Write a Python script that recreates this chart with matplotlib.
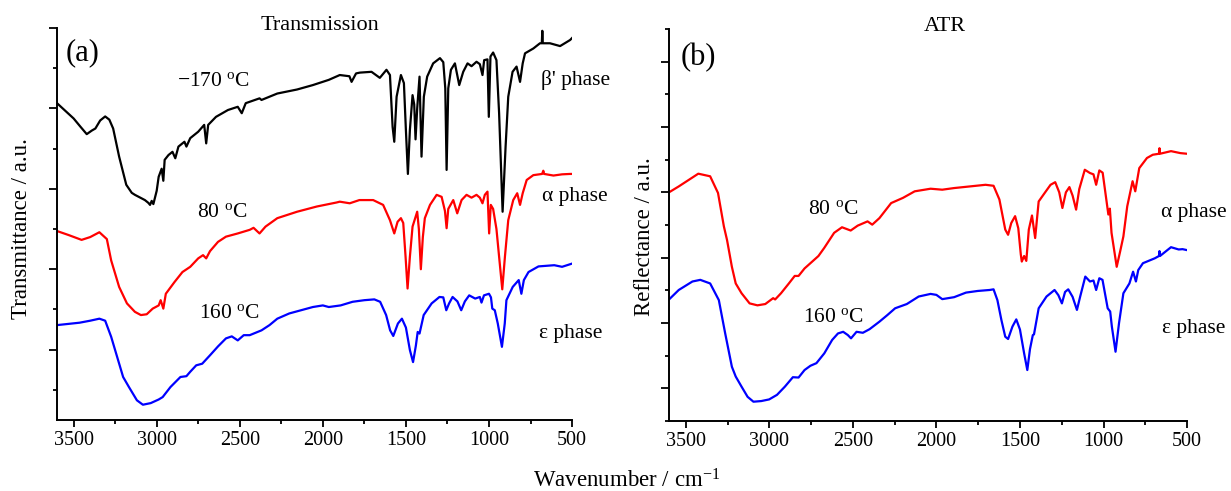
import matplotlib
matplotlib.use("Agg")
import matplotlib.pyplot as plt
from matplotlib.ticker import MultipleLocator

plt.rcParams['font.family'] = ['Liberation Serif', 'DejaVu Serif']
plt.rcParams['mathtext.fontset'] = 'custom'
plt.rcParams['mathtext.rm'] = 'Liberation Serif'
plt.rcParams['mathtext.it'] = 'Liberation Serif:italic'
plt.rcParams['lines.solid_joinstyle'] = 'round'

# ---- (a) Transmission, y in a.u. (one minor tick = 1) ----
wn_beta = [3600, 3500, 3460, 3421, 3390, 3369, 3340, 3310, 3285, 3262, 3226, 3183, 3150, 3131, 3071,
           3050, 3040, 3030, 3020, 3000, 2988, 2970, 2960, 2952, 2929, 2905, 2888, 2869, 2833, 2821,
           2798, 2750, 2714, 2702, 2690, 2643, 2571, 2512, 2488, 2464, 2381, 2369, 2274, 2155, 2060,
           1964, 1898, 1840, 1827, 1800, 1777, 1707, 1657, 1617, 1596, 1580, 1570, 1556, 1530, 1512,
           1500, 1488, 1476, 1460, 1450, 1442, 1432, 1418, 1406, 1392, 1372, 1336, 1295, 1275, 1263,
           1255, 1245, 1229, 1205, 1179, 1155, 1129, 1105, 1075, 1055, 1039, 1029, 1009, 1001, 991,
           975, 955, 939, 918, 900, 884, 858, 834, 813, 797, 783, 733, 693, 682, 679, 676, 633, 572,
           512, 500]
tr_beta = [8.13, 7.75, 7.55, 7.36, 7.45, 7.5, 7.7, 7.8, 7.72, 7.5, 6.8, 6.1, 5.9, 5.85, 5.72,
           5.65, 5.6, 5.7, 5.62, 5.95, 6.3, 6.5, 6.2, 6.72, 6.84, 6.92, 6.76, 7.05, 7.17, 7.05,
           7.26, 7.42, 7.59, 7.13, 7.59, 7.79, 7.96, 8.04, 7.88, 8.13, 8.25, 8.21, 8.37, 8.47, 8.58,
           8.71, 8.83, 8.8, 8.66, 8.87, 8.89, 8.91, 8.76, 8.96, 8.83, 7.54, 7.17, 8.29, 8.83, 8.63,
           7.46, 6.37, 7.46, 8.33, 8.1, 7.23, 8.0, 8.79, 6.8, 8.29, 8.79, 9.12, 9.25, 9.15, 8.5,
           6.47, 8.5, 8.96, 9.12, 8.58, 8.91, 9.12, 9.05, 9.16, 9.1, 8.83, 9.2, 9.22, 7.79, 9.29,
           9.39, 9.2, 7.88, 5.43, 7.05, 8.29, 8.91, 9.04, 8.66, 9.12, 9.37, 9.49, 9.62, 9.62, 9.93,
           9.62, 9.62, 9.55, 9.7, 9.75]

wn_alpha = [3600, 3530, 3452, 3400, 3345, 3300, 3274, 3226, 3179, 3131, 3095, 3060, 3024, 2988, 2976,
            2960, 2945, 2893, 2845, 2798, 2750, 2721, 2702, 2679, 2631, 2583, 2512, 2440, 2417, 2381,
            2345, 2274, 2155, 2036, 1917, 1898, 1838, 1780, 1697, 1637, 1596, 1570, 1550, 1530, 1516,
            1502, 1490, 1476, 1460, 1432, 1422, 1410, 1398, 1386, 1355, 1315, 1285, 1265, 1255, 1245,
            1215, 1191, 1165, 1135, 1105, 1075, 1055, 1039, 1025, 1009, 999, 989, 975, 955, 939,
            920, 904, 884, 854, 830, 813, 797, 773, 733, 680, 673, 668, 612, 560, 512, 500]
tr_alpha = [4.95, 4.85, 4.73, 4.8, 4.92, 4.75, 4.22, 3.56, 3.15, 2.94, 2.86, 2.88, 3.02, 3.1, 3.23,
            3.02, 3.39, 3.68, 3.93, 4.06, 4.27, 4.35, 4.27, 4.45, 4.68, 4.81, 4.89, 4.98, 5.03, 4.89,
            5.06, 5.27, 5.43, 5.56, 5.66, 5.68, 5.64, 5.72, 5.72, 5.6, 5.22, 4.89, 5.18, 5.27, 5.15,
            4.31, 3.52, 4.31, 5.06, 5.43, 5.0, 4.0, 4.8, 5.27, 5.6, 5.85, 5.8, 5.45, 5.02, 5.5,
            5.72, 5.39, 5.72, 5.85, 5.78, 5.85, 5.78, 5.64, 5.85, 5.93, 4.89, 5.6, 5.5, 5.0, 4.31,
            3.5, 4.31, 5.22, 5.72, 5.89, 5.6, 5.89, 6.22, 6.34, 6.37, 6.45, 6.37, 6.33, 6.36, 6.37, 6.37]

wn_eps = [3600, 3464, 3400, 3345, 3310, 3274, 3238, 3202, 3167, 3119, 3083, 3036, 2988, 2964, 2917,
          2857, 2821, 2798, 2762, 2726, 2679, 2631, 2583, 2548, 2512, 2476, 2440, 2369, 2321, 2274,
          2202, 2131, 2060, 2000, 1964, 1893, 1821, 1750, 1690, 1655, 1619, 1595, 1576, 1548, 1524,
          1500, 1476, 1457, 1440, 1429, 1418, 1393, 1345, 1298, 1275, 1257, 1240, 1219, 1190, 1167,
          1145, 1119, 1083, 1055, 1045, 1030, 1000, 988, 980, 965, 947, 922, 905, 895, 857,
          821, 805, 790, 762, 702, 607, 560, 500]
tr_eps = [2.61, 2.67, 2.72, 2.77, 2.72, 2.32, 1.82, 1.32, 1.07, 0.74, 0.63, 0.67, 0.76, 0.82, 1.07,
          1.32, 1.34, 1.45, 1.61, 1.65, 1.86, 2.08, 2.28, 2.33, 2.23, 2.36, 2.36, 2.48, 2.61, 2.77,
          2.9, 2.98, 3.06, 3.1, 3.06, 3.1, 3.19, 3.23, 3.25, 3.19, 2.86, 2.48, 2.34, 2.65, 2.77,
          2.55, 1.99, 1.69, 2.1, 2.44, 2.4, 2.86, 3.15, 3.31, 3.3, 2.98, 3.15, 3.31, 3.2, 2.98,
          3.2, 3.35, 3.27, 3.31, 3.17, 3.35, 3.39, 3.3, 3.02, 2.98, 2.65, 2.07, 2.65, 3.23, 3.56,
          3.73, 3.39, 3.73, 3.93, 4.07, 4.1, 4.06, 4.14]

# ---- (b) ATR ----
wn_atr_alpha = [3600, 3542, 3425, 3354, 3307, 3272, 3253, 3224, 3201, 3166, 3118, 3071, 3024, 2977, 2965,
                2930, 2883, 2848, 2825, 2789, 2754, 2706, 2671, 2612, 2565, 2513, 2471, 2412, 2384, 2341,
                2271, 2200, 2130, 2035, 1965, 1894, 1800, 1706, 1658, 1623, 1588, 1571, 1552, 1529, 1510,
                1495, 1489, 1475, 1462, 1447, 1428, 1409, 1388, 1352, 1317, 1289, 1265, 1246, 1225, 1204,
                1185, 1164, 1145, 1112, 1081, 1060, 1044, 1025, 1005, 971, 962, 952, 921, 900, 881,
                858, 826, 810, 786, 740, 705, 668, 665, 662, 596, 540, 500]
rf_atr_alpha = [7.0, 7.18, 7.57, 7.49, 6.98, 5.96, 5.54, 4.72, 4.21, 3.91, 3.6, 3.54, 3.58, 3.76, 3.72,
                3.91, 4.21, 4.44, 4.44, 4.67, 4.83, 5.05, 5.3, 5.76, 5.93, 5.83, 5.98, 6.11, 6.01, 6.21,
                6.67, 6.83, 7.03, 7.11, 7.08, 7.13, 7.18, 7.23, 7.2, 6.78, 5.86, 5.7, 6.06, 6.27, 5.9,
                5.1, 4.88, 5.05, 4.9, 5.86, 6.29, 5.6, 6.72, 6.98, 7.23, 7.31, 7.0, 6.52, 7.0, 7.16,
                6.9, 6.47, 7.1, 7.69, 7.59, 7.55, 7.23, 7.67, 7.6, 6.32, 6.5, 5.76, 4.72, 5.2, 5.65,
                6.57, 7.34, 7.03, 7.74, 8.05, 8.15, 8.18, 8.35, 8.18, 8.26, 8.2, 8.18]

wn_atr_eps = [3600, 3542, 3460, 3413, 3354, 3302, 3264, 3224, 3201, 3166, 3130, 3095, 3048, 3001, 2954,
              2907, 2859, 2825, 2789, 2754, 2718, 2671, 2624, 2589, 2558, 2530, 2511, 2478, 2440, 2400,
              2341, 2294, 2247, 2177, 2106, 2035, 2000, 1965, 1894, 1823, 1753, 1682, 1658, 1635, 1611,
              1588, 1571, 1545, 1522, 1500, 1475, 1456, 1440, 1423, 1416, 1388, 1341, 1293, 1270, 1249,
              1230, 1211, 1185, 1159, 1140, 1109, 1081, 1060, 1044, 1025, 1006, 975, 960, 950, 928,
              907, 881, 845, 823, 806, 792, 764, 693, 668, 665, 662, 596, 550, 527, 500]
rf_atr_eps = [3.72, 4.01, 4.27, 4.32, 4.21, 3.7, 2.68, 1.66, 1.36, 1.05, 0.74, 0.59, 0.61, 0.66, 0.8,
              1.05, 1.34, 1.33, 1.56, 1.69, 1.77, 2.07, 2.48, 2.68, 2.73, 2.63, 2.53, 2.73, 2.7, 2.81,
              3.04, 3.24, 3.45, 3.58, 3.81, 3.89, 3.86, 3.73, 3.79, 3.93, 3.98, 4.01, 4.03, 3.7, 3.09,
              2.58, 2.51, 2.89, 3.11, 2.8, 2.07, 1.56, 2.2, 2.63, 2.65, 3.45, 3.81, 4.01, 3.85, 3.6,
              3.95, 4.03, 3.8, 3.4, 3.8, 4.42, 4.27, 4.3, 4.01, 4.37, 4.32, 3.45, 3.35, 2.89, 2.12,
              3.0, 3.91, 4.21, 4.57, 4.27, 4.62, 4.83, 4.98, 5.05, 5.2, 5.05, 5.32, 5.25, 5.26, 5.23]

fig = plt.figure(figsize=(12.31, 4.91), dpi=100)
ax1 = fig.add_axes([0.0463, 0.1446, 0.4184, 0.7984])
ax2 = fig.add_axes([0.5435, 0.1426, 0.4208, 0.7984])

lw = 1.6
ax1.plot(wn_beta, tr_beta, color='black', lw=lw)
ax1.plot(wn_alpha, tr_alpha, color='#ff0000', lw=lw)
ax1.plot(wn_eps, tr_eps, color='#0000ff', lw=lw)
ax2.plot(wn_atr_alpha, rf_atr_alpha, color='#ff0000', lw=lw)
ax2.plot(wn_atr_eps, rf_atr_eps, color='#0000ff', lw=lw)

ax1.set_ylim(0.25, 10)
ax2.set_ylim(0, 12)
ax1.yaxis.set_major_locator(MultipleLocator(2))
ax1.yaxis.set_minor_locator(MultipleLocator(1))
ax2.set_yticks([1, 3, 5, 7, 9, 11])
ax2.set_yticks([0, 2, 4, 6, 8, 10, 12], minor=True)

for ax in (ax1, ax2):
    ax.set_xlim(3600, 500)
    ax.xaxis.set_major_locator(MultipleLocator(500))
    ax.xaxis.set_minor_locator(MultipleLocator(250))
    ax.spines['top'].set_visible(False)
    ax.spines['right'].set_visible(False)
    ax.spines['left'].set_linewidth(1.4)
    ax.spines['bottom'].set_linewidth(1.4)
    ax.tick_params(axis='x', which='major', direction='out', length=5, width=1.3, labelsize=14.5, pad=3)
    ax.tick_params(axis='x', which='minor', direction='out', length=3, width=1.3)
    ax.tick_params(axis='y', which='major', direction='out', length=5.5, width=1.3, labelleft=False)
    ax.tick_params(axis='y', which='minor', direction='out', length=3, width=1.3)

fs = 15.5
fig.text(320 / 1231, 1 - 30 / 491, 'Transmission', ha='center', va='baseline', fontsize=16)
fig.text(945 / 1231, 1 - 31 / 491, 'ATR', ha='center', va='baseline', fontsize=16)
ax1.text(3446, 9.38, '(a)', ha='center', va='center', fontsize=22)
ax2.text(3422, 11.11, '(b)', ha='center', va='center', fontsize=22)

ax1.text(2657, 8.66, '\u2212170 $^{\\mathrm{o}}$C', ha='center', va='center', fontsize=fs)
ax1.text(2608, 5.4, '80 $^{\\mathrm{o}}$C', ha='center', va='center', fontsize=fs)
ax1.text(2560, 2.91, '160 $^{\\mathrm{o}}$C', ha='center', va='center', fontsize=fs)
ax1.text(476, 8.71, "\u03b2' phase", ha='center', va='center', fontsize=fs)
ax1.text(485, 5.82, '\u03b1 phase', ha='center', va='center', fontsize=fs)
ax1.text(506, 2.41, '\u03b5 phase', ha='center', va='center', fontsize=fs)

ax2.text(2620, 6.46, '80 $^{\\mathrm{o}}$C', ha='center', va='center', fontsize=fs)
ax2.text(2614, 3.18, '160 $^{\\mathrm{o}}$C', ha='center', va='center', fontsize=fs)
ax2.text(458, 6.37, '\u03b1 phase', ha='center', va='center', fontsize=fs)
ax2.text(458, 2.82, '\u03b5 phase', ha='center', va='center', fontsize=fs)

fig.text(22 / 1231, 1 - 229 / 491, 'Transmittance / a.u.', rotation=90, ha='center', va='center', fontsize=16.5)
fig.text(645 / 1231, 1 - 237 / 491, 'Reflectance / a.u.', rotation=90, ha='center', va='center', fontsize=16.5)
fig.text(627 / 1231, 0.008, 'Wavenumber / cm$^{\\mathrm{\u22121}}$', ha='center', va='baseline', fontsize=16.5)

fig.savefig('out.png', dpi=100)
